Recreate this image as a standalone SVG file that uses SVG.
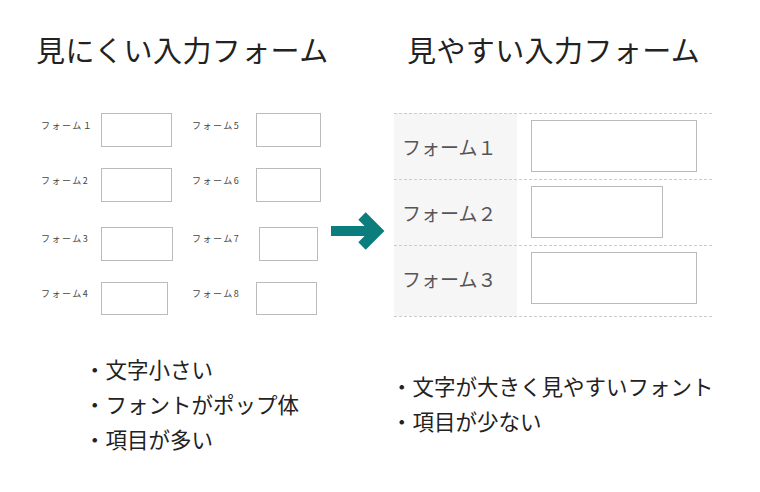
<svg xmlns="http://www.w3.org/2000/svg" width="760" height="492" viewBox="0 0 760 492">
<style>
text{font-family:"Noto Sans CJK JP","Noto Sans",sans-serif}
.title{font-size:29px;fill:#222;letter-spacing:0.4px}
.small{font-size:9px;fill:#444;letter-spacing:1.5px}
.big{font-size:19px;fill:#555}
.note{font-size:21.5px;fill:#222}
.box{fill:#fff;stroke:#bbb;stroke-width:1}
.dot{stroke:#ccc;stroke-width:1;stroke-dasharray:3 2;fill:none}
</style>
<rect width="760" height="492" fill="#fff"/>
<text class="title" x="36" y="62">見にくい入力フォーム</text>
<text class="title" x="407" y="62">見やすい入力フォーム</text>

<g id="bad-form">
<g id="bad1"><text class="small" x="41" y="129">フォーム１</text><rect class="box" x="101.5" y="113.5" width="70" height="33"/></g>
<g id="bad2"><text class="small" x="41" y="184">フォーム2</text><rect class="box" x="101.5" y="168.5" width="70" height="33"/></g>
<g id="bad3"><text class="small" x="41" y="242">フォーム3</text><rect class="box" x="101.5" y="227.5" width="71" height="33"/></g>
<g id="bad4"><text class="small" x="41" y="297">フォーム4</text><rect class="box" x="101.5" y="282.5" width="66" height="32"/></g>
<g id="bad5"><text class="small" x="192" y="129">フォーム5</text><rect class="box" x="256.5" y="113.5" width="64" height="33"/></g>
<g id="bad6"><text class="small" x="192" y="184">フォーム6</text><rect class="box" x="256.5" y="168.5" width="64" height="33"/></g>
<g id="bad7"><text class="small" x="192" y="242">フォーム7</text><rect class="box" x="259.5" y="227.5" width="58" height="33"/></g>
<g id="bad8"><text class="small" x="192" y="297">フォーム8</text><rect class="box" x="256.5" y="282.5" width="60" height="32"/></g>
</g>

<g id="connectors">
<path d="M331 231 H376" stroke="#0b7d7d" stroke-width="10" fill="none"/>
<path d="M362 216 L377 231 L362 246" stroke="#0b7d7d" stroke-width="10.5" fill="none" stroke-linecap="butt" stroke-linejoin="miter"/>
</g>

<g id="good-form">
<rect x="394" y="113" width="123" height="203" fill="#f6f6f6"/>
<line class="dot" x1="394" y1="113.5" x2="712" y2="113.5"/>
<line class="dot" x1="394" y1="179.5" x2="712" y2="179.5"/>
<line class="dot" x1="394" y1="245.5" x2="712" y2="245.5"/>
<line class="dot" x1="394" y1="316.5" x2="712" y2="316.5"/>
<g id="good1"><text class="big" x="402" y="155">フォーム１</text><rect class="box" x="531.5" y="120.5" width="165" height="51"/></g>
<g id="good2"><text class="big" x="402" y="221">フォーム２</text><rect class="box" x="531.5" y="186.5" width="131" height="51"/></g>
<g id="good3"><text class="big" x="402" y="287">フォーム３</text><rect class="box" x="531.5" y="252.5" width="165" height="51"/></g>
</g>

<g id="notes">
<text class="note" x="84" y="378">・文字小さい</text>
<text class="note" x="84" y="413">・フォントがポップ体</text>
<text class="note" x="84" y="448">・項目が多い</text>
<text class="note" x="391" y="395">・文字が大きく見やすいフォント</text>
<text class="note" x="391" y="430">・項目が少ない</text>
</g>
</svg>
